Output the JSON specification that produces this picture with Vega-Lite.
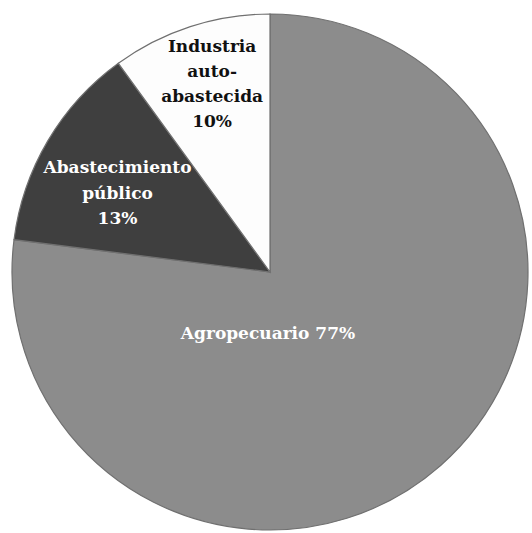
{
  "$schema": "https://vega.github.io/schema/vega-lite/v6.json",
  "width": 516,
  "height": 516,
  "autosize": "none",
  "padding": {"left": 12, "top": 14, "right": 4, "bottom": 3},
  "background": "white",
  "view": {"stroke": null},
  "data": {
    "values": [
      {"sector": "Agropecuario", "pct": 77, "order": 1, "label": ["Agropecuario 77%"]},
      {"sector": "Abastecimiento público", "pct": 13, "order": 2, "label": ["Abastecimiento", "público", "13%"]},
      {"sector": "Industria autoabastecida", "pct": 10, "order": 3, "label": ["Industria", "auto-", "abastecida", "10%"]}
    ]
  },
  "encoding": {
    "theta": {"field": "pct", "type": "quantitative", "stack": true},
    "order": {"field": "order", "type": "quantitative"}
  },
  "layer": [
    {
      "mark": {"type": "arc", "stroke": "#707070", "strokeWidth": 1.2},
      "encoding": {
        "color": {
          "field": "sector",
          "type": "nominal",
          "scale": {
            "domain": ["Agropecuario", "Abastecimiento público", "Industria autoabastecida"],
            "range": ["#8c8c8c", "#3f3f3f", "#fdfdfd"]
          },
          "legend": null
        }
      }
    },
    {
      "mark": {"type": "text", "font": "DejaVu Serif", "fontWeight": "bold", "fontSize": 17, "lineHeight": 25, "align": "center", "baseline": "middle", "color": "#111111", "dx": 3, "dy": -38},
      "encoding": {
        "radius": {"value": 197},
        "text": {"condition": {"test": "datum.order == 3", "field": "label"}, "value": ""}
      }
    },
    {
      "mark": {"type": "text", "font": "DejaVu Serif", "fontWeight": "bold", "fontSize": 17, "lineHeight": 25.5, "align": "center", "baseline": "middle", "color": "#ffffff", "dx": -1, "dy": -14},
      "encoding": {
        "radius": {"value": 176},
        "text": {"condition": {"test": "datum.order == 2", "field": "label"}, "value": ""}
      }
    },
    {
      "mark": {"type": "text", "font": "DejaVu Serif", "fontWeight": "bold", "fontSize": 17, "align": "center", "baseline": "middle", "dx": -2, "dy": 62, "color": "#ffffff"},
      "encoding": {
        "radius": {"value": 0},
        "text": {"condition": {"test": "datum.order == 1", "field": "label"}, "value": ""}
      }
    }
  ]
}
